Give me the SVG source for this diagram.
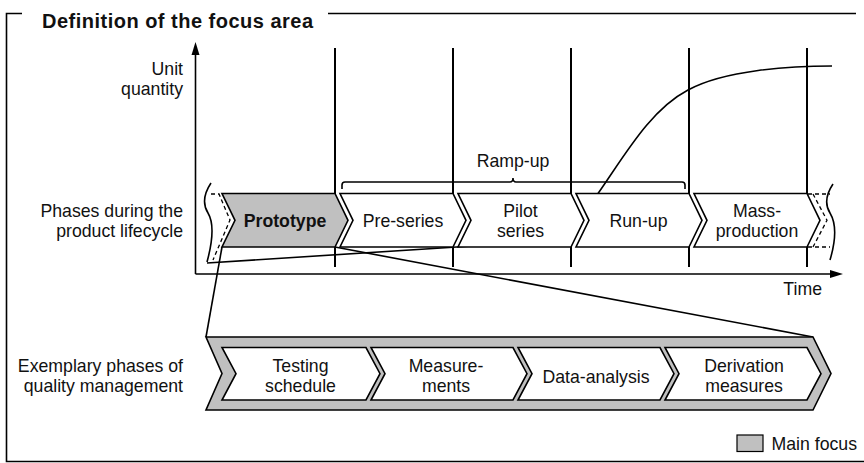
<svg xmlns="http://www.w3.org/2000/svg" width="864" height="463" viewBox="0 0 864 463">
<defs>
<style>
.t{font-family:"Liberation Sans",Arial,sans-serif;font-size:17.7px;fill:#111}
.title{font-size:20px;font-weight:bold}
.m{text-anchor:middle}
.e{text-anchor:end}
.ln{fill:none;stroke:#000;stroke-width:1.6}
.vl{fill:none;stroke:#000;stroke-width:2}
.ch{fill:#fff;stroke:#000;stroke-width:1.6;stroke-linejoin:miter}
.gr{fill:#c0c0c0}
.ds{fill:none;stroke:#000;stroke-width:1.3;stroke-dasharray:4 3}
.ah{fill:#000}
</style>
</defs>
<rect width="864" height="463" fill="#fff"/>
<g id="frame">
<path class="ln" d="M22,13.5 H6.5 V461.5 H870 M328,13.5 H856"/>
<text class="t title" x="42" y="28" textLength="271" lengthAdjust="spacing">Definition of the focus area</text>
</g>
<g id="axes">
<path class="ln" d="M195.5,274 V54"/>
<path class="ln" d="M195.5,274 H832"/>
<path class="ah" d="M195.5,42 L191.5,55 L199.5,55 Z"/>
<path class="ah" d="M843,274 L830,270 L830,278 Z"/>
<text class="t e" x="183" y="75">Unit</text>
<text class="t e" x="183" y="95">quantity</text>
<text class="t e" x="822" y="295">Time</text>
</g>
<g id="phase-lines">
<path class="vl" d="M335,48 V267 M453,48 V267 M571,48 V267 M689,48 V267 M807,48 V267"/>
</g>
<g id="connectors">
<path class="ln" d="M207,263 L480,245.5"/>
<path class="ln" d="M598,193.5 C625,155 650,110 688,90 C725,70 790,66 832,66"/>
<path class="ln" d="M222,247 L206,337"/>
<path class="ln" d="M335,247 L813,337"/>
</g>
<g id="ramp-up">
<path class="ln" d="M342,189 V185 Q342,182 345,182 H510 Q513,182 513,178 Q513,182 516,182 H682 Q685,182 685,185 V189"/>
<text class="t m" x="513" y="167">Ramp-up</text>
</g>
<g id="breaks">
<path class="ln" d="M211,183 C203,195 203,205 208,213 C214,223 213,240 207,262"/>
<path class="ds" d="M211,194 H219 L230,220 L213,260"/>
<path class="ln" d="M833,184 C825,196 825,205 830,213 C836,223 836,240 830,260"/>
<path class="ds" d="M808,194 H830 M813,194 L827,220.3 L813,247 M808,247 H830"/>
</g>
<g id="label-phases">
<text class="t e" x="183" y="216.5">Phases during the</text>
<text class="t e" x="183" y="237">product lifecycle</text>
</g>
<g id="prototype">
<path class="ch gr" d="M222,193.5 L335,193.5 L348,220.3 L335,247 L222,247 L235,220.3 Z"/>
<text class="t m" x="285" y="226.5" font-weight="bold">Prototype</text>
</g>
<g id="pre-series">
<path class="ch" d="M340,193.5 L453,193.5 L466,220.3 L453,247 L340,247 L353,220.3 Z"/>
<text class="t m" x="403" y="226.5">Pre-series</text>
</g>
<g id="pilot-series">
<path class="ch" d="M458,193.5 L571,193.5 L584,220.3 L571,247 L458,247 L471,220.3 Z"/>
<text class="t m" x="520.5" y="216.5">Pilot</text>
<text class="t m" x="520.5" y="237">series</text>
</g>
<g id="run-up">
<path class="ch" d="M576,193.5 L689,193.5 L702,220.3 L689,247 L576,247 L589,220.3 Z"/>
<text class="t m" x="638.5" y="226.5">Run-up</text>
</g>
<g id="mass-production">
<path class="ch" d="M694,193.5 L807,193.5 L820,220.3 L807,247 L694,247 L707,220.3 Z"/>
<text class="t m" x="757" y="216.5">Mass-</text>
<text class="t m" x="757" y="237">production</text>
</g>
<g id="label-quality">
<text class="t e" x="183" y="371.5">Exemplary phases of</text>
<text class="t e" x="183" y="391.5">quality management</text>
</g>
<g id="quality-band">
<path class="ch gr" d="M206,337 L813,337 L831,373.5 L813,410 L206,410 L222,373.5 Z"/>
</g>
<g id="testing-schedule">
<path class="ch" d="M222,347.5 L366,347.5 L380,373.7 L366,400 L222,400 L236,373.7 Z"/>
<text class="t m" x="300.5" y="371.5">Testing</text>
<text class="t m" x="300.5" y="391.5">schedule</text>
</g>
<g id="measurements">
<path class="ch" d="M371,347.5 L513,347.5 L527,373.7 L513,400 L371,400 L385,373.7 Z"/>
<text class="t m" x="446" y="371.5">Measure-</text>
<text class="t m" x="446" y="391.5">ments</text>
</g>
<g id="data-analysis">
<path class="ch" d="M518,347.5 L660,347.5 L674,373.7 L660,400 L518,400 L532,373.7 Z"/>
<text class="t m" x="596" y="382.5">Data-analysis</text>
</g>
<g id="derivation-measures">
<path class="ch" d="M665,347.5 L807,347.5 L821,373.7 L807,400 L665,400 L679,373.7 Z"/>
<text class="t m" x="744" y="371.5">Derivation</text>
<text class="t m" x="744" y="391.5">measures</text>
</g>
<g id="legend">
<rect x="737" y="435" width="26" height="16.5" fill="#c0c0c0" stroke="#000" stroke-width="1.2"/>
<text class="t" x="771.5" y="450">Main focus</text>
</g>
</svg>
